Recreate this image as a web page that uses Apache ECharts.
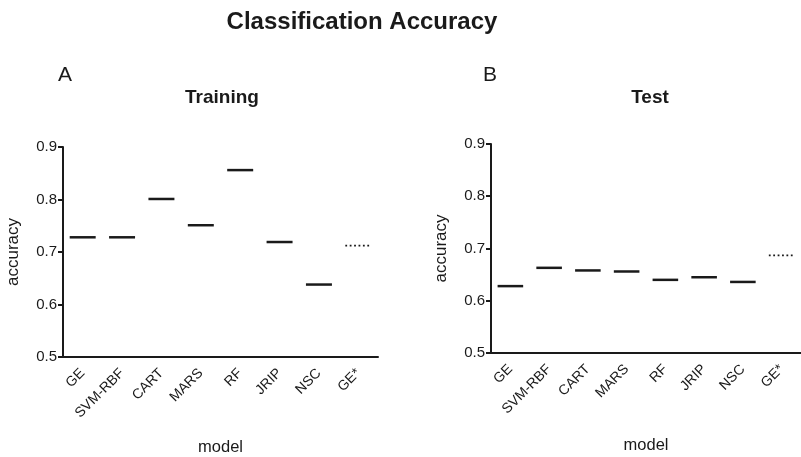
<!DOCTYPE html>
<html>
<head>
<meta charset="utf-8">
<script src="https://cdn.jsdelivr.net/npm/echarts@6/dist/echarts.min.js"></script>
<style>
  html, body { margin: 0; padding: 0; background: #fff; }
  #chart { width: 801px; height: 457px; }
</style>
</head>
<body>
<div id="chart"></div>
<script>
// models on the x axis (GE* = reference, drawn dotted)
var models = ["GE", "SVM-RBF", "CART", "MARS", "RF", "JRIP", "NSC", "GE*"];
var trainingAcc = [0.728, 0.728, 0.801, 0.751, 0.856, 0.719, 0.638, 0.712];
var testAcc = [0.628, 0.663, 0.658, 0.656, 0.640, 0.645, 0.636, 0.687];
var yTicks = [0.5, 0.6, 0.7, 0.8, 0.9];

var FONT = "Liberation Sans, Arial, sans-serif";
var INK = "#1a1a1a";

function toPoints(vals) {
  return vals.map(function (v, i) { return [i, v]; });
}

// short horizontal bar per model, width taken from the category band
function renderItem(params, api) {
  var p = api.coord([api.value(0), api.value(1)]);
  var w = api.size([1, 0])[0] * 0.66;
  var ref = models[api.value(0)].indexOf("*") >= 0;
  return {
    type: "line",
    shape: { x1: p[0] - w / 2, y1: p[1], x2: p[0] + w / 2, y2: p[1] },
    style: ref
      ? { stroke: INK, lineWidth: 1.8, lineDash: [1.8, 2.6] }
      : { stroke: INK, lineWidth: 2.5 }
  };
}

function xAxisOf(idx) {
  return {
    gridIndex: idx,
    type: "category",
    data: models,
    boundaryGap: true,
    name: "model",
    nameLocation: "middle",
    nameGap: idx === 0 ? 82 : 84,
    nameTextStyle: { fontFamily: FONT, fontSize: 16.5, color: INK },
    axisLine: { lineStyle: { color: INK, width: 2 } },
    axisTick: { alignWithLabel: true, length: 5, lineStyle: { color: INK, width: 2 } },
    axisLabel: { rotate: 45, margin: 14, fontFamily: FONT, fontSize: 14, color: INK },
    splitLine: { show: false }
  };
}

function yAxisOf(idx) {
  return {
    gridIndex: idx,
    type: "value",
    min: yTicks[0],
    max: yTicks[yTicks.length - 1],
    interval: 0.1,
    name: "accuracy",
    nameLocation: "middle",
    nameGap: 41,
    nameTextStyle: { fontFamily: FONT, fontSize: 17, color: INK },
    axisLine: { show: true, lineStyle: { color: INK, width: 2 } },
    axisTick: { show: true, length: 5, lineStyle: { color: INK, width: 2 } },
    axisLabel: {
      margin: 6, fontFamily: FONT, fontSize: 15, color: INK,
      formatter: function (v) { return v.toFixed(1); }
    },
    splitLine: { show: false }
  };
}

function label(text, x, y, size, bold) {
  return {
    type: "text", x: x, y: y,
    style: {
      text: text, fill: INK, fontFamily: FONT, fontSize: size,
      fontWeight: bold ? "bold" : "normal", align: "center", verticalAlign: "middle"
    }
  };
}

var chart = echarts.init(document.getElementById("chart"), null, { renderer: "canvas" });
chart.setOption({
  backgroundColor: "#fff",
  animation: false,
  grid: [
    { left: 63, top: 147, width: 315, bottom: 99 },
    { left: 491, top: 144, width: 315, bottom: 104 }
  ],
  xAxis: [xAxisOf(0), xAxisOf(1)],
  yAxis: [yAxisOf(0), yAxisOf(1)],
  graphic: [
    label("Classification Accuracy", 362, 22, 24, true),
    label("A", 65, 75, 21, false),
    label("Training", 222, 98, 19, true),
    label("B", 490, 75, 21, false),
    label("Test", 650, 98, 19, true)
  ],
  series: [
    { type: "custom", xAxisIndex: 0, yAxisIndex: 0, renderItem: renderItem, data: toPoints(trainingAcc) },
    { type: "custom", xAxisIndex: 1, yAxisIndex: 1, renderItem: renderItem, data: toPoints(testAcc) }
  ]
});
</script>
</body>
</html>
